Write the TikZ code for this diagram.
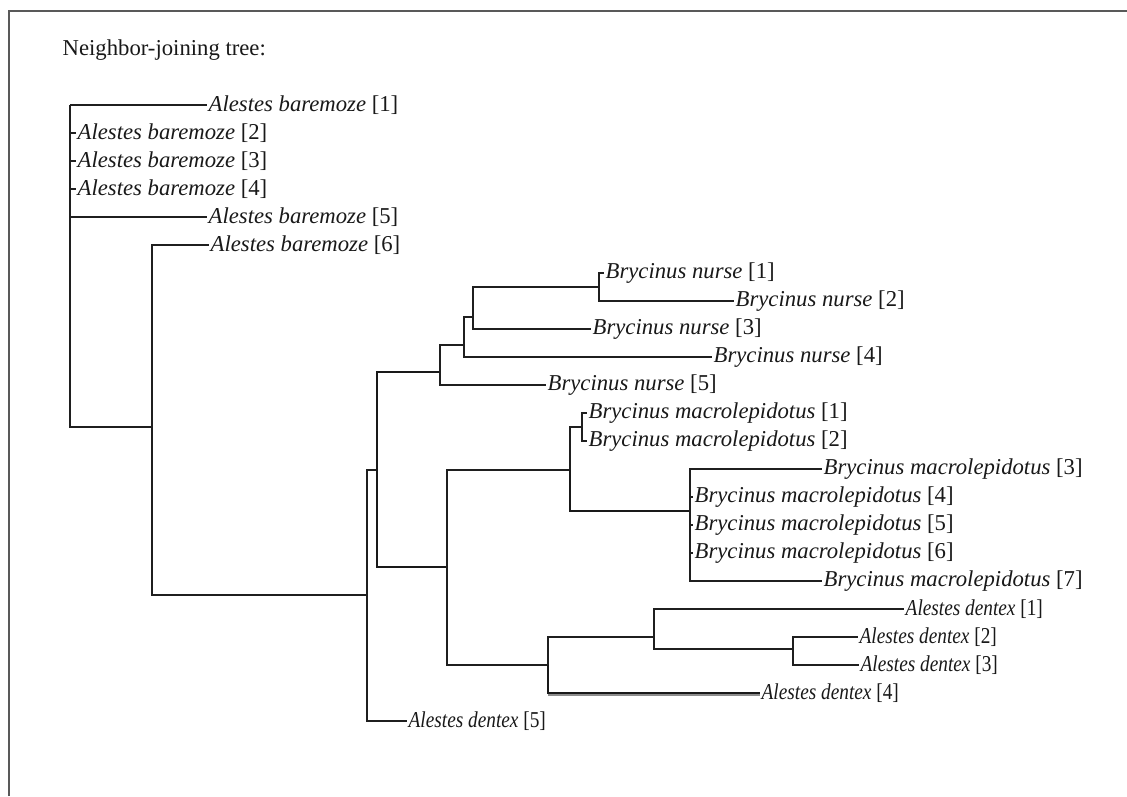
\documentclass[tikz,border=0pt]{standalone}
\usepackage{fontspec}
\setmainfont{Liberation Serif}
\usepackage{graphicx}
\begin{document}
\begin{tikzpicture}[x=1pt,y=-1pt,
  lab/.style={anchor=west,inner sep=1.5pt,font=\fontsize{22.7}{27}\selectfont,text=black!90},
  br/.style={draw=black!88,line width=1.4pt},
  thickbr/.style={draw=black!90,line width=2.1pt},
  frame/.style={draw=black!65,line width=2pt}]
\useasboundingbox (0,0) rectangle (1127,796);
\fill[white] (0,0) rectangle (1127,796);
\draw[frame] (9,796) -- (9,10.5) -- (1127,10.5);
\node[lab,anchor=west] (title) at (61,50) {Neighbor-joining tree:};
% internal nodes
\coordinate (root) at (70,105);
\coordinate (n1) at (152,427);
\coordinate (n2) at (367,595);
\coordinate (n3) at (377,470);
\coordinate (n4) at (440,372);
\coordinate (n6) at (464,345);
\coordinate (n7) at (473,317);
\coordinate (n8) at (599,287);
\coordinate (n5) at (447,567);
\coordinate (n9) at (570,470);
\coordinate (n9b) at (582,427);
\coordinate (n13) at (690,511);
\coordinate (n10) at (548,665);
\coordinate (n11) at (654,637);
\coordinate (n12) at (793,649);
% leaves
\node[lab] (ab1) at (207,105) {\textit{Alestes baremoze} [1]};
\node[lab] (ab2) at (76,133) {\textit{Alestes baremoze} [2]};
\node[lab] (ab3) at (76,161) {\textit{Alestes baremoze} [3]};
\node[lab] (ab4) at (76,189) {\textit{Alestes baremoze} [4]};
\node[lab] (ab5) at (207,217) {\textit{Alestes baremoze} [5]};
\node[lab] (ab6) at (209,245) {\textit{Alestes baremoze} [6]};
\node[lab] (bn1) at (604,273) {\textit{Brycinus nurse} [1]};
\node[lab] (bn2) at (734,301) {\textit{Brycinus nurse} [2]};
\node[lab] (bn3) at (591,329) {\textit{Brycinus nurse} [3]};
\node[lab] (bn4) at (712,357) {\textit{Brycinus nurse} [4]};
\node[lab] (bn5) at (546,385) {\textit{Brycinus nurse} [5]};
\node[lab] (bm1) at (587,413) {\textit{Brycinus macrolepidotus} [1]};
\node[lab] (bm2) at (587,441) {\textit{Brycinus macrolepidotus} [2]};
\node[lab] (bm3) at (822,469) {\textit{Brycinus macrolepidotus} [3]};
\node[lab] (bm4) at (693,497) {\textit{Brycinus macrolepidotus} [4]};
\node[lab] (bm5) at (693,525) {\textit{Brycinus macrolepidotus} [5]};
\node[lab] (bm6) at (693,553) {\textit{Brycinus macrolepidotus} [6]};
\node[lab] (bm7) at (822,581) {\textit{Brycinus macrolepidotus} [7]};
\node[lab] (ad1) at (904,609) {\scalebox{0.85}[1]{\textit{Alestes dentex} [1]}};
\node[lab] (ad2) at (858,637) {\scalebox{0.85}[1]{\textit{Alestes dentex} [2]}};
\node[lab] (ad3) at (859,665) {\scalebox{0.85}[1]{\textit{Alestes dentex} [3]}};
\node[lab] (ad4) at (760,693) {\scalebox{0.85}[1]{\textit{Alestes dentex} [4]}};
\node[lab] (ad5) at (407,721) {\scalebox{0.85}[1]{\textit{Alestes dentex} [5]}};
% branches
\draw[br] (root) |- (ab1.west);
\draw[br] (root) |- (ab2.west);
\draw[br] (root) |- (ab3.west);
\draw[br] (root) |- (ab4.west);
\draw[br] (root) |- (ab5.west);
\draw[br] (root) |- (n1);
\draw[br] (n1) |- (ab6.west);
\draw[br] (n1) |- (n2);
\draw[br] (n2) |- (n3);
\draw[br] (n2) |- (ad5.west);
\draw[thickbr] (n3) |- (n4);
\draw[thickbr] (n3) |- (n5);
\draw[br] (n4) |- (n6);
\draw[br] (n4) |- (bn5.west);
\draw[br] (n6) |- (n7);
\draw[br] (n6) |- (bn4.west);
\draw[br] (n7) |- (n8);
\draw[br] (n7) |- (bn3.west);
\draw[br] (n8) |- (bn1.west);
\draw[br] (n8) |- (bn2.west);
\draw[br] (n5) |- (n9);
\draw[br] (n5) |- (n10);
\draw[br] (n9) |- (n9b);
\draw[thickbr] (n9) |- (n13);
\draw[br] (n9b) |- (bm1.west);
\draw[br] (n9b) |- (bm2.west);
\draw[br] (n13) |- (bm3.west);
\draw[br] (n13) |- (bm4.west);
\draw[br] (n13) |- (bm5.west);
\draw[br] (n13) |- (bm6.west);
\draw[br] (n13) |- (bm7.west);
\draw[br] (n10) |- (n11);
\draw[draw=black!45,line width=1.6pt,transform canvas={yshift=-1.8pt}] (n10 |- ad4.west) -- (ad4.west);
\draw[thickbr] (n10) |- (ad4.west);
\draw[br] (n11) |- (ad1.west);
\draw[br] (n11) |- (n12);
\draw[br] (n12) |- (ad2.west);
\draw[br] (n12) |- (ad3.west);
\end{tikzpicture}
\end{document}
